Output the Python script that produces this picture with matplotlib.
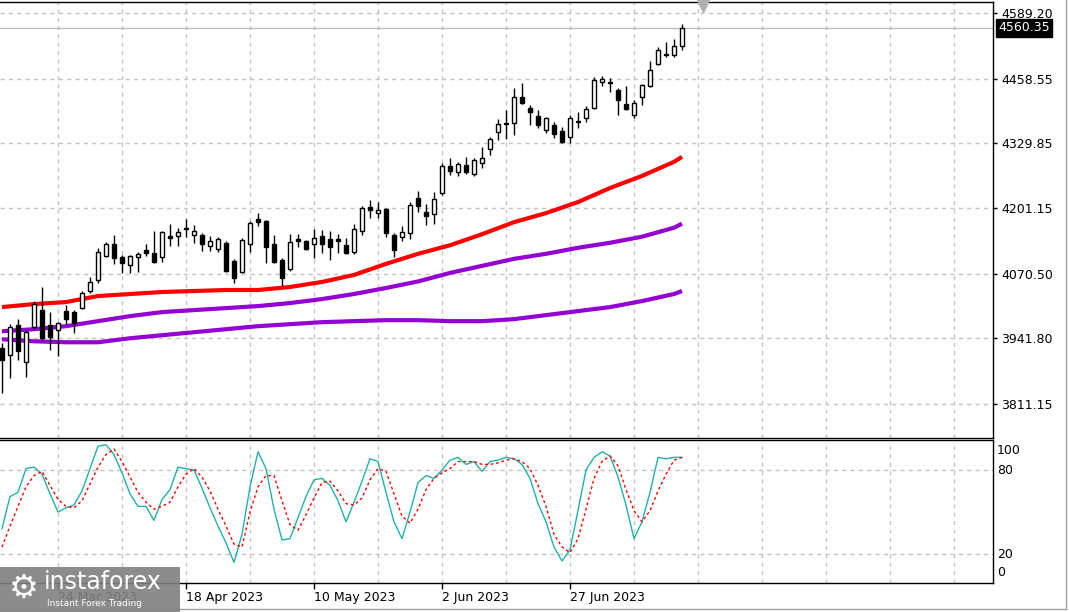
import matplotlib
matplotlib.use("Agg")
import matplotlib.pyplot as plt
import numpy as np
from matplotlib.lines import Line2D
from matplotlib.patches import Rectangle

# ---------------- data ----------------
opens = [3922, 3909, 3968, 3895, 3964, 3998, 3968, 3958, 3996, 3994,
         4002, 4036, 4058, 4106, 4129, 4104, 4088, 4104, 4118, 4112,
         4104, 4145, 4145, 4161, 4147, 4147, 4125, 4119, 4131, 4096,
         4074, 4129, 4179, 4175, 4129, 4098, 4080, 4139, 4135, 4129,
         4145, 4139, 4139, 4127, 4114, 4155, 4203, 4191, 4199, 4147,
         4143, 4151, 4221, 4193, 4189, 4231, 4285, 4273, 4287, 4269,
         4291, 4318, 4352, 4370, 4370, 4422, 4400, 4384, 4356, 4366,
         4354, 4342, 4374, 4380, 4400, 4452, 4450, 4436, 4408, 4386,
         4422, 4444, 4488, 4508, 4506, 4524]
highs = [3932, 3970, 3980, 3958, 4016, 4044, 3994, 3974, 4008, 3998,
         4036, 4064, 4121, 4133, 4147, 4108, 4108, 4114, 4129, 4155,
         4155, 4169, 4161, 4179, 4167, 4151, 4145, 4143, 4135, 4100,
         4141, 4175, 4191, 4177, 4147, 4102, 4149, 4149, 4137, 4159,
         4157, 4155, 4149, 4141, 4169, 4205, 4217, 4213, 4201, 4151,
         4165, 4213, 4235, 4209, 4233, 4291, 4301, 4293, 4303, 4301,
         4322, 4342, 4378, 4396, 4440, 4450, 4406, 4396, 4382, 4372,
         4362, 4386, 4392, 4404, 4462, 4464, 4460, 4440, 4444, 4416,
         4448, 4494, 4521, 4531, 4537, 4567]
lows = [3833, 3863, 3899, 3865, 3960, 3938, 3919, 3907, 3970, 3952,
        4000, 4032, 4052, 4104, 4090, 4072, 4072, 4074, 4106, 4092,
        4094, 4125, 4125, 4143, 4131, 4116, 4116, 4114, 4074, 4052,
        4072, 4114, 4165, 4092, 4092, 4046, 4076, 4123, 4118, 4102,
        4112, 4098, 4112, 4110, 4110, 4147, 4181, 4181, 4143, 4104,
        4135, 4139, 4193, 4167, 4169, 4227, 4267, 4265, 4269, 4265,
        4281, 4306, 4336, 4338, 4346, 4408, 4366, 4360, 4350, 4340,
        4330, 4330, 4360, 4372, 4398, 4444, 4432, 4386, 4396, 4380,
        4406, 4442, 4486, 4502, 4502, 4516]
closes = [3899, 3964, 3917, 3954, 4010, 3942, 3944, 3972, 3980, 3972,
          4032, 4054, 4114, 4129, 4102, 4092, 4106, 4110, 4112, 4094,
          4153, 4141, 4153, 4159, 4155, 4129, 4135, 4139, 4076, 4062,
          4137, 4171, 4173, 4123, 4094, 4062, 4133, 4135, 4119, 4141,
          4129, 4123, 4135, 4112, 4159, 4201, 4197, 4197, 4151, 4118,
          4153, 4207, 4205, 4185, 4219, 4285, 4275, 4289, 4273, 4297,
          4301, 4338, 4368, 4368, 4422, 4410, 4392, 4366, 4380, 4348,
          4332, 4380, 4372, 4398, 4456, 4458, 4452, 4416, 4398, 4410,
          4446, 4476, 4516, 4506, 4524, 4560.35]

# moving averages, read at every 4th bar
ma_idx = [0, 4, 8, 12, 16, 20, 24, 28, 32, 36, 40, 44, 48, 52, 56, 60, 64, 68, 72, 76, 80, 84, 85]
ma_red = [4004, 4010, 4014, 4026, 4030, 4034, 4036, 4038, 4038, 4044, 4054, 4068,
          4090, 4110, 4127, 4149, 4173, 4191, 4213, 4241, 4265, 4293, 4303]
ma_purple1 = [3956, 3960, 3966, 3976, 3986, 3994, 3998, 4002, 4006, 4012, 4020, 4030,
              4042, 4055, 4072, 4086, 4100, 4110, 4122, 4132, 4144, 4162, 4170]
ma_purple2 = [3940, 3936, 3934, 3934, 3942, 3948, 3954, 3960, 3966, 3970, 3974, 3976,
              3978, 3978, 3976, 3976, 3980, 3988, 3996, 4004, 4016, 4030, 4036]

# stochastic oscillator
stoch_k = [38, 61, 64, 81, 82, 77, 63, 50, 53, 55,
           65, 81, 97, 98, 91, 78, 63, 54, 54, 44,
           59, 66, 82, 81, 80, 67, 53, 40, 28, 14,
           34, 68, 93, 81, 52, 30, 31, 46, 61, 73,
           74, 69, 58, 43, 57, 72, 88, 86, 64, 43,
           31, 50, 71, 76, 74, 80, 87, 89, 84, 86,
           79, 86, 87, 89, 88, 84, 74, 56, 43, 25,
           15, 23, 51, 80, 89, 93, 90, 75, 55, 31,
           43, 64, 89, 88, 89, 89]
stoch_d = [25, 40, 54, 68, 76, 79, 69, 59, 54, 53,
           58, 70, 82, 91, 95, 86, 75, 64, 57, 52,
           54, 57, 68, 77, 81, 75, 65, 52, 40, 27,
           25, 50, 68, 76, 76, 58, 41, 37, 48, 60,
           71, 72, 65, 56, 55, 60, 73, 81, 79, 63,
           47, 42, 52, 66, 74, 78, 81, 86, 86, 86,
           84, 84, 85, 87, 88, 86, 81, 69, 54, 34,
           25, 21, 31, 52, 74, 86, 90, 83, 66, 51,
           43, 51, 65, 77, 87, 89]

price_ticks = [4589.20, 4458.55, 4329.85, 4201.15, 4070.50, 3941.80, 3811.15]
last_price = 4560.35
date_idx = [7, 23, 39, 55, 71]
date_labels = ["24 Mar 2023", "18 Apr 2023", "10 May 2023", "2 Jun 2023", "27 Jun 2023"]
stoch_levels = [20, 80]

# ---------------- figure ----------------
W, H = 1069, 612
fig = plt.figure(figsize=(W / 100, H / 100), dpi=100)
fig.patch.set_facecolor("white")

def fx(px):
    return px / W

def fy(py):
    return 1 - py / H

ax = fig.add_axes([0, fy(438), fx(993), (438 - 2) / H])
ax2 = fig.add_axes([0, fy(583), fx(993), (583 - 440) / H])

xmin, xmax = -0.25, 123.875
grid_kw = dict(color="#c4c4c4", lw=1, ls=(0, (3, 3)), zorder=0)
vgrid = np.arange(7, 124, 8)

# ---- main panel ----
ax.set_xlim(xmin, xmax)
ax.set_ylim(3743.5, 4611.1)
for g in vgrid:
    ax.axvline(g, **grid_kw)
for t in price_ticks:
    ax.axhline(t, **grid_kw)
ax.axhline(last_price, color="#c0c0c0", lw=1, zorder=0.5)

n = len(opens)
xs = np.arange(n)
o = np.array(opens, float)
h = np.array(highs, float)
l = np.array(lows, float)
c = np.array(closes, float)
ax.vlines(xs, l, h, color="black", lw=1, zorder=3)
up = c >= o
bottoms = np.minimum(o, c)
heights = np.abs(c - o)
ax.bar(xs[up], heights[up], bottom=bottoms[up], width=0.6, color="white",
       edgecolor="black", linewidth=1, zorder=4)
ax.bar(xs[~up], heights[~up], bottom=bottoms[~up], width=0.6, color="black",
       edgecolor="black", linewidth=1, zorder=4)

ax.plot(ma_idx, ma_red, color="#ff0000", lw=3.0, zorder=2, solid_capstyle="butt")
ax.plot(ma_idx, ma_purple1, color="#9400d3", lw=3.0, zorder=2, solid_capstyle="butt")
ax.plot(ma_idx, ma_purple2, color="#9400d3", lw=3.0, zorder=2, solid_capstyle="butt")

# chart shift marker
ax.plot([87.6], [4603], marker="v", color="#b0b0b0", markersize=9, clip_on=False, zorder=6)

ax.yaxis.tick_right()
ax.set_yticks(price_ticks)
ax.set_yticklabels([f"{t:.2f}" for t in price_ticks])
ax.tick_params(axis="y", direction="out", length=3, width=1, pad=3, labelsize=9,
               colors="black")
ax.set_xticks([])
ax.spines["left"].set_visible(False)
for s in ["top", "right", "bottom"]:
    ax.spines[s].set_linewidth(1)
    ax.spines[s].set_color("black")

# current price box
fig.text(fx(998), fy(27.5), f"{last_price:.2f}", color="white", fontsize=9,
         va="center", ha="left",
         bbox=dict(boxstyle="square,pad=0.2", fc="black", ec="black"), zorder=10)

# ---- stochastic panel ----
ax2.set_xlim(xmin, xmax)
ax2.set_ylim(-0.7, 101.4)
for g in vgrid:
    ax2.axvline(g, **grid_kw)
for lv in stoch_levels:
    ax2.axhline(lv, **grid_kw)
ax2.plot(xs, stoch_k, color="#20b2aa", lw=1, zorder=3)
ax2.plot(xs, stoch_d, color="#ff0000", lw=1, ls=(0, (2, 2)), zorder=3)
ax2.set_yticks([])
ax2.spines["left"].set_visible(False)
for s in ["top", "right", "bottom"]:
    ax2.spines[s].set_linewidth(1)
    ax2.spines[s].set_color("black")
ax2.set_xticks(date_idx)
ax2.set_xticklabels(date_labels)
for lab in ax2.get_xticklabels():
    lab.set_horizontalalignment("left")
ax2.tick_params(axis="x", direction="out", length=4, width=1, pad=2, labelsize=9)

for txt, py in [("100", 451), ("80", 470), ("20", 554), ("0", 573)]:
    fig.text(fx(997), fy(py), txt, fontsize=9, va="center", ha="left")

# window border lines
fig.add_artist(Line2D([fx(1066), fx(1066)], [fy(0), fy(609)], color="#a0a0a0", lw=1))
fig.add_artist(Line2D([fx(0), fx(1066)], [fy(609), fy(609)], color="#a0a0a0", lw=1))

# watermark logo
fig.add_artist(Rectangle((0, 0), fx(180), fy(567), transform=fig.transFigure,
                         fc="#808080", ec="none", alpha=0.9, zorder=20))
fig.text(fx(24), fy(588), "\u2699", color="white", fontsize=24, ha="center", va="center",
         zorder=21)
fig.text(fx(44), fy(582), "instaforex", color="white", fontsize=17, ha="left",
         va="center", zorder=21)
fig.text(fx(47), fy(603), "Instant Forex Trading", color="white", fontsize=6.5,
         ha="left", va="center", zorder=21)

fig.savefig("out.png", dpi=100, facecolor="white")
